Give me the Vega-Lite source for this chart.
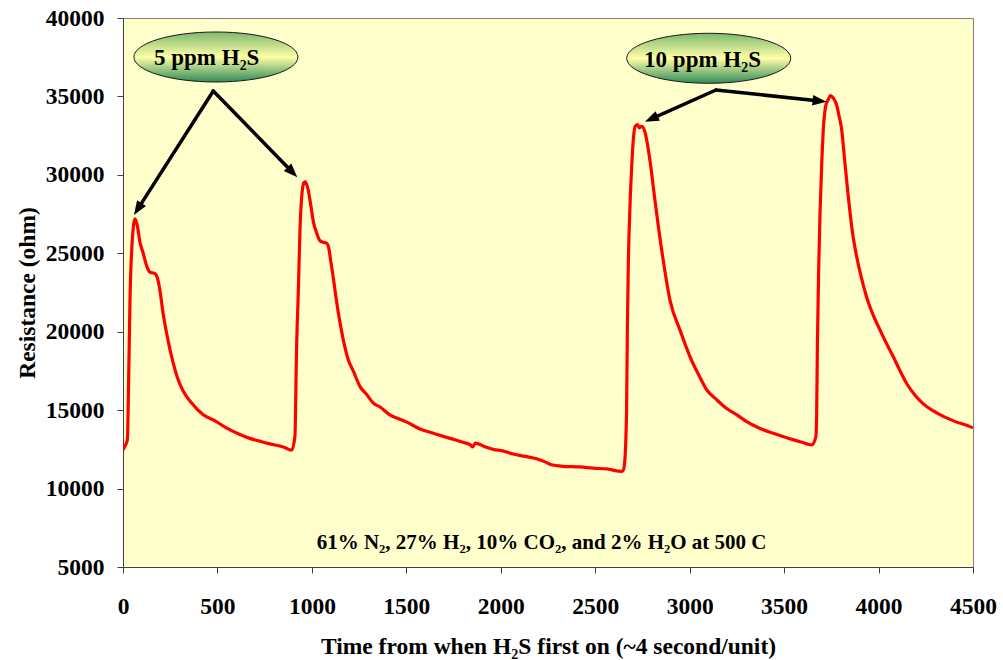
{
  "$schema": "https://vega.github.io/schema/vega-lite/v6.json",
  "width": 850,
  "height": 549,
  "autosize": {"type": "none"},
  "padding": {"left": 123, "top": 18, "right": 30, "bottom": 93},
  "background": "white",
  "config": {
    "font": "Liberation Serif",
    "view": {"fill": "#FFFFCC", "stroke": "#808080", "strokeWidth": 1}
  },
  "datasets": {
    "curve": [
      {"x": 0, "y": 12450}, {"x": 10, "y": 12700}, {"x": 23, "y": 13100}, {"x": 30, "y": 17000},
      {"x": 37, "y": 22000}, {"x": 50, "y": 26000}, {"x": 64, "y": 27200}, {"x": 75, "y": 26800},
      {"x": 90, "y": 25700}, {"x": 107, "y": 25000}, {"x": 125, "y": 24200}, {"x": 143, "y": 23800},
      {"x": 169, "y": 23700}, {"x": 185, "y": 23300}, {"x": 196, "y": 22600}, {"x": 212, "y": 21200},
      {"x": 231, "y": 19900}, {"x": 250, "y": 18800}, {"x": 266, "y": 18000}, {"x": 290, "y": 17000},
      {"x": 319, "y": 16200}, {"x": 360, "y": 15500}, {"x": 425, "y": 14700}, {"x": 490, "y": 14300},
      {"x": 549, "y": 13850}, {"x": 610, "y": 13500}, {"x": 672, "y": 13200}, {"x": 730, "y": 13000},
      {"x": 778, "y": 12850}, {"x": 849, "y": 12650}, {"x": 893, "y": 12450}, {"x": 910, "y": 13300},
      {"x": 919, "y": 19000}, {"x": 928, "y": 22500}, {"x": 937, "y": 26500}, {"x": 946, "y": 28600},
      {"x": 958, "y": 29500}, {"x": 966, "y": 29550}, {"x": 981, "y": 29000}, {"x": 995, "y": 28000},
      {"x": 1008, "y": 27000}, {"x": 1025, "y": 26300}, {"x": 1043, "y": 25800}, {"x": 1060, "y": 25700},
      {"x": 1078, "y": 25650}, {"x": 1090, "y": 25300}, {"x": 1100, "y": 24500}, {"x": 1115, "y": 23300},
      {"x": 1131, "y": 21900}, {"x": 1150, "y": 20500}, {"x": 1166, "y": 19500}, {"x": 1193, "y": 18200},
      {"x": 1219, "y": 17500}, {"x": 1255, "y": 16500}, {"x": 1290, "y": 16000}, {"x": 1325, "y": 15450},
      {"x": 1361, "y": 15200}, {"x": 1413, "y": 14700}, {"x": 1449, "y": 14500}, {"x": 1500, "y": 14250},
      {"x": 1572, "y": 13800}, {"x": 1650, "y": 13500}, {"x": 1731, "y": 13200}, {"x": 1800, "y": 12950},
      {"x": 1837, "y": 12800}, {"x": 1851, "y": 12650}, {"x": 1865, "y": 12900}, {"x": 1881, "y": 12850},
      {"x": 1920, "y": 12650}, {"x": 1960, "y": 12500}, {"x": 2010, "y": 12400}, {"x": 2066, "y": 12200},
      {"x": 2130, "y": 12050}, {"x": 2190, "y": 11900}, {"x": 2235, "y": 11700}, {"x": 2261, "y": 11550},
      {"x": 2330, "y": 11420}, {"x": 2419, "y": 11380}, {"x": 2490, "y": 11300}, {"x": 2561, "y": 11250},
      {"x": 2640, "y": 11100}, {"x": 2649, "y": 11180}, {"x": 2658, "y": 12000}, {"x": 2663, "y": 13500},
      {"x": 2666, "y": 15000}, {"x": 2670, "y": 20000}, {"x": 2675, "y": 24150}, {"x": 2684, "y": 28000},
      {"x": 2693, "y": 30500}, {"x": 2702, "y": 32300}, {"x": 2712, "y": 33100}, {"x": 2725, "y": 33200},
      {"x": 2733, "y": 33000}, {"x": 2745, "y": 33100}, {"x": 2764, "y": 32700}, {"x": 2780, "y": 31700},
      {"x": 2790, "y": 30900}, {"x": 2816, "y": 28400}, {"x": 2852, "y": 25200}, {"x": 2896, "y": 22000},
      {"x": 2949, "y": 20100}, {"x": 3002, "y": 18400}, {"x": 3050, "y": 17200}, {"x": 3090, "y": 16300},
      {"x": 3140, "y": 15700}, {"x": 3196, "y": 15100}, {"x": 3250, "y": 14700}, {"x": 3302, "y": 14270},
      {"x": 3370, "y": 13850}, {"x": 3443, "y": 13520}, {"x": 3510, "y": 13250}, {"x": 3584, "y": 12990},
      {"x": 3620, "y": 12850}, {"x": 3646, "y": 12780}, {"x": 3668, "y": 13300}, {"x": 3672, "y": 14500},
      {"x": 3676, "y": 19000}, {"x": 3683, "y": 24000}, {"x": 3690, "y": 27500}, {"x": 3700, "y": 31000},
      {"x": 3707, "y": 32800}, {"x": 3722, "y": 34500}, {"x": 3734, "y": 34800}, {"x": 3745, "y": 35050},
      {"x": 3760, "y": 34900}, {"x": 3778, "y": 34450}, {"x": 3790, "y": 33800}, {"x": 3805, "y": 32860},
      {"x": 3820, "y": 31000}, {"x": 3840, "y": 28600}, {"x": 3860, "y": 26500}, {"x": 3884, "y": 24800},
      {"x": 3910, "y": 23400}, {"x": 3937, "y": 22200}, {"x": 3970, "y": 21100}, {"x": 4008, "y": 20100},
      {"x": 4040, "y": 19300}, {"x": 4078, "y": 18400}, {"x": 4110, "y": 17600}, {"x": 4149, "y": 16700},
      {"x": 4190, "y": 16000}, {"x": 4237, "y": 15400}, {"x": 4290, "y": 14950}, {"x": 4343, "y": 14600},
      {"x": 4400, "y": 14300}, {"x": 4484, "y": 13950}, {"x": 4500, "y": 13870}
    ],
    "arrows": [
      {"x": 478, "y": 35350, "x2": 78, "y2": 27817},
      {"x": 478, "y": 35350, "x2": 897, "y2": 30163},
      {"x": 3139, "y": 35410, "x2": 2797, "y2": 33574},
      {"x": 3139, "y": 35410, "x2": 3688, "y2": 34709}
    ],
    "heads": [
      {"id": "a", "x": 78, "y": 27817},
      {"id": "b", "x": 897, "y": 30163},
      {"id": "c", "x": 2797, "y": 33574},
      {"id": "d", "x": 3688, "y": 34709}
    ],
    "bubbles": [
      {"x": 492, "y": 37514},
      {"x": 3101, "y": 37431}
    ],
    "labels": [
      {"x": 443, "y": 37004, "text": "5 ppm H₂S"},
      {"x": 3068, "y": 36895, "text": "10 ppm H₂S"}
    ],
    "note": [
      {"x": 2216, "y": 6149, "text": "61% N₂, 27% H₂, 10% CO₂, and 2% H₂O at 500 C"}
    ]
  },
  "encoding": {
    "x": {
      "field": "x", "type": "quantitative",
      "scale": {"domain": [0, 4500], "nice": false, "zero": false},
      "axis": {
        "title": "Time from when H₂S first on (~4 second/unit)",
        "values": [0, 500, 1000, 1500, 2000, 2500, 3000, 3500, 4000, 4500],
        "format": "d",
        "grid": false,
        "labelFont": "Liberation Serif", "labelFontSize": 23.5, "labelFontWeight": "bold", "labelColor": "black",
        "labelFlush": false, "labelOverlap": false, "labelPadding": 21,
        "tickSize": 6, "tickColor": "#404040", "domainColor": "#404040",
        "titleFont": "Liberation Serif", "titleFontSize": 23.5, "titleFontWeight": "bold", "titleColor": "black",
        "titleBaseline": "alphabetic", "titleY": 86
      }
    },
    "y": {
      "field": "y", "type": "quantitative",
      "scale": {"domain": [5000, 40000], "nice": false, "zero": false},
      "axis": {
        "title": "Resistance (ohm)",
        "values": [5000, 10000, 15000, 20000, 25000, 30000, 35000, 40000],
        "format": "d",
        "grid": false,
        "labelFont": "Liberation Serif", "labelFontSize": 23.5, "labelFontWeight": "bold", "labelColor": "black",
        "labelFlush": false, "labelOverlap": false, "labelPadding": 13,
        "tickSize": 6, "tickColor": "#404040", "domainColor": "#404040",
        "titleFont": "Liberation Serif", "titleFontSize": 23.5, "titleFontWeight": "bold", "titleColor": "black",
        "titleBaseline": "alphabetic", "titleAngle": -90, "titleX": -88.5, "titleY": 274.5, "titleAlign": "center"
      }
    }
  },
  "layer": [
    {
      "data": {"name": "curve"},
      "mark": {"type": "line", "color": "#FF0000", "strokeWidth": 3.2, "interpolate": "monotone", "clip": true}
    },
    {
      "data": {"name": "arrows"},
      "mark": {"type": "rule", "color": "black", "strokeWidth": 3.5, "strokeCap": "round"},
      "encoding": {"x2": {"field": "x2"}, "y2": {"field": "y2"}}
    },
    {
      "data": {"name": "heads"},
      "transform": [{"filter": "datum.id == 'a'"}],
      "mark": {"type": "point", "shape": "M0,-1L0.75,1L-0.75,1Z", "size": 196, "filled": true, "color": "black", "opacity": 1, "angle": 212.6}
    },
    {
      "data": {"name": "heads"},
      "transform": [{"filter": "datum.id == 'b'"}],
      "mark": {"type": "point", "shape": "M0,-1L0.75,1L-0.75,1Z", "size": 196, "filled": true, "color": "black", "opacity": 1, "angle": 135.8}
    },
    {
      "data": {"name": "heads"},
      "transform": [{"filter": "datum.id == 'c'"}],
      "mark": {"type": "point", "shape": "M0,-1L0.75,1L-0.75,1Z", "size": 196, "filled": true, "color": "black", "opacity": 1, "angle": 245.9}
    },
    {
      "data": {"name": "heads"},
      "transform": [{"filter": "datum.id == 'd'"}],
      "mark": {"type": "point", "shape": "M0,-1L0.75,1L-0.75,1Z", "size": 196, "filled": true, "color": "black", "opacity": 1, "angle": 96}
    },
    {
      "data": {"name": "bubbles"},
      "mark": {
        "type": "point",
        "shape": "M-1,0A1,0.305,0,1,1,1,0A1,0.305,0,1,1,-1,0Z",
        "size": 26896,
        "filled": true,
        "opacity": 1,
        "fill": {
          "gradient": "linear", "x1": 0, "y1": 0, "x2": 0, "y2": 1,
          "stops": [
            {"offset": 0, "color": "#7db86e"},
            {"offset": 0.5, "color": "#ffffa8"},
            {"offset": 1, "color": "#2e8b57"}
          ]
        },
        "stroke": "#1a1a1a",
        "strokeWidth": 1
      }
    },
    {
      "data": {"name": "labels"},
      "mark": {"type": "text", "font": "Liberation Serif", "fontSize": 23, "fontWeight": "bold", "color": "black", "align": "center", "baseline": "alphabetic"},
      "encoding": {"text": {"field": "text"}}
    },
    {
      "data": {"name": "note"},
      "mark": {"type": "text", "font": "Liberation Serif", "fontSize": 21, "fontWeight": "bold", "color": "black", "align": "center", "baseline": "alphabetic"},
      "encoding": {"text": {"field": "text"}}
    }
  ]
}
